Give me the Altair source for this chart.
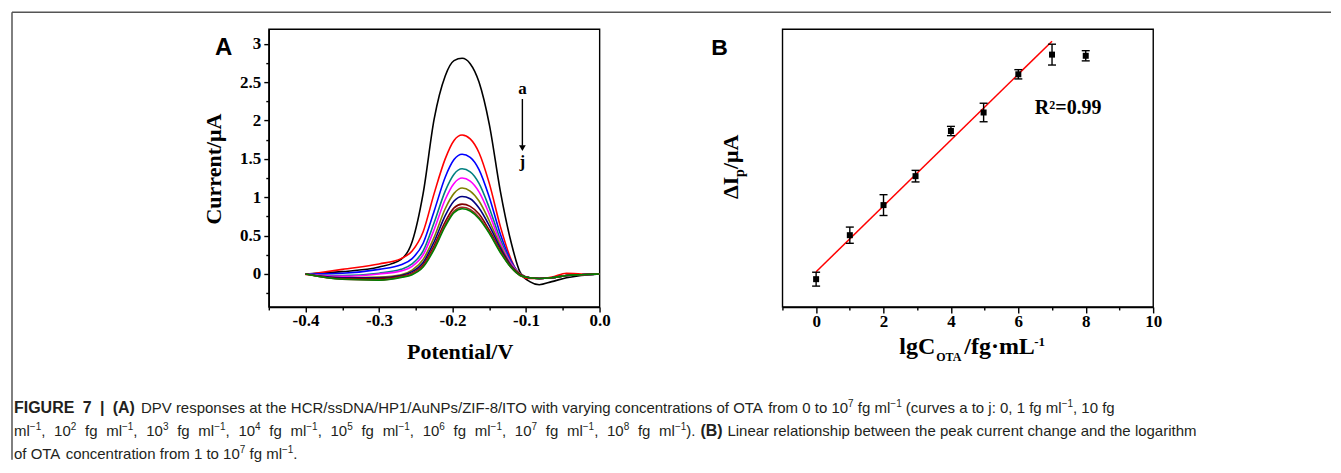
import re
import altair as alt
import pandas as pd

# ---------------- Panel A data (DPV curves a..j) ----------------
POTENTIAL = [-0.400, -0.350, -0.300, -0.270, -0.255, -0.240, -0.225, -0.210, -0.198, -0.187, -0.176,
             -0.164, -0.150, -0.135, -0.120, -0.108, -0.095, -0.082, -0.065, -0.045, -0.025, 0.000]
CURVE_IDS = ["a", "b", "c", "d", "e", "f", "g", "h", "i", "j"]
CURVE_COLORS = ["#000000", "#ff0000", "#0000ff", "#008080", "#ff00ff",
                "#808000", "#000080", "#800000", "#a52a2a", "#008000"]
CUR_A = [0.00, 0.03, 0.09, 0.19, 0.42, 1.05, 2.02, 2.58, 2.78, 2.81, 2.74, 2.50, 1.95, 1.08, 0.40, 0.02, -0.10, -0.14, -0.10, -0.05, -0.02, 0.00]
CUR_B = [-0.01, 0.06, 0.13, 0.20, 0.30, 0.55, 1.05, 1.50, 1.74, 1.81, 1.76, 1.58, 1.18, 0.62, 0.18, -0.02, -0.06, -0.06, -0.04, 0.01, 0.00, 0.00]
CUR_C = [0.00, 0.01, 0.06, 0.12, 0.20, 0.40, 0.82, 1.26, 1.49, 1.56, 1.52, 1.36, 1.00, 0.52, 0.16, 0.00, -0.05, -0.06, -0.05, -0.02, -0.01, 0.00]
CUR_D = [0.00, -0.02, 0.01, 0.06, 0.13, 0.30, 0.67, 1.08, 1.30, 1.37, 1.33, 1.18, 0.86, 0.45, 0.14, 0.00, -0.05, -0.06, -0.05, -0.02, -0.01, 0.00]
CUR_E = [0.00, -0.03, 0.00, 0.04, 0.10, 0.25, 0.58, 0.97, 1.18, 1.25, 1.21, 1.07, 0.78, 0.41, 0.13, 0.00, -0.05, -0.06, -0.05, -0.02, -0.01, 0.00]
CUR_F = [0.00, -0.05, -0.04, -0.01, 0.05, 0.19, 0.48, 0.85, 1.05, 1.12, 1.08, 0.95, 0.69, 0.37, 0.11, 0.00, -0.05, -0.06, -0.05, -0.02, -0.01, 0.00]
CUR_G = [0.00, -0.05, -0.05, -0.02, 0.03, 0.15, 0.42, 0.76, 0.95, 1.01, 0.98, 0.86, 0.63, 0.34, 0.10, -0.01, -0.05, -0.06, -0.05, -0.02, -0.01, 0.00]
CUR_H = [0.00, -0.06, -0.06, -0.03, 0.01, 0.12, 0.37, 0.68, 0.86, 0.91, 0.88, 0.78, 0.57, 0.31, 0.09, -0.01, -0.05, -0.06, -0.05, -0.02, -0.01, 0.00]
CUR_I = [0.00, -0.07, -0.08, -0.04, 0.00, 0.10, 0.34, 0.64, 0.82, 0.87, 0.84, 0.74, 0.54, 0.29, 0.08, -0.02, -0.05, -0.06, -0.05, -0.02, -0.01, 0.00]
CUR_J = [0.00, -0.07, -0.08, -0.045, -0.01, 0.09, 0.32, 0.62, 0.80, 0.85, 0.82, 0.72, 0.53, 0.28, 0.08, -0.02, -0.05, -0.06, -0.05, -0.02, -0.01, 0.00]
CURVES = [CUR_A, CUR_B, CUR_C, CUR_D, CUR_E, CUR_F, CUR_G, CUR_H, CUR_I, CUR_J]

A_X_TICKS = [-0.45, -0.4, -0.35, -0.3, -0.25, -0.2, -0.15, -0.1, -0.05, 0.0]
A_Y_TICKS = [-0.25, 0, 0.25, 0.5, 0.75, 1, 1.25, 1.5, 1.75, 2, 2.25, 2.5, 2.75, 3]

# ---------------- Panel B data ----------------
LGC = [0, 1, 2, 2.95, 4, 4.97, 6, 7, 8]
DIP = [1.22, 1.41, 1.54, 1.665, 1.86, 1.94, 2.105, 2.19, 2.185]
ERR = [0.03, 0.035, 0.045, 0.025, 0.02, 0.04, 0.02, 0.045, 0.022]
FIT_X = [0, 7]
FIT_Y = [1.252, 2.248]
B_X_TICKS = [-1, 0, 1, 2, 3, 4, 5, 6, 7, 8, 9, 10]
B_Y_TICKS = [1.1, 1.2, 1.3, 1.4, 1.5, 1.6, 1.7, 1.8, 1.9, 2.0, 2.1, 2.2, 2.3]

# ---------------- Caption text (^{..} = superscript) ----------------
CAP_L1_BOLD = "FIGURE 7 | (A)"
CAP_L1 = ("DPV responses at the HCR/ssDNA/HP1/AuNPs/ZIF-8/ITO with varying concentrations of OTA from 0 to "
          "10^{7} fg ml^{\u22121} (curves a to j: 0, 1 fg ml^{\u22121}, 10 fg")
CAP_L2 = ("ml^{\u22121}, 10^{2} fg ml^{\u22121}, 10^{3} fg ml^{\u22121}, 10^{4} fg ml^{\u22121}, "
          "10^{5} fg ml^{\u22121}, 10^{6} fg ml^{\u22121}, 10^{7} fg ml^{\u22121}, 10^{8} fg ml^{\u22121}).")
CAP_L2_BOLD = "(B)"
CAP_L2B = "Linear relationship between the peak current change and the logarithm"
CAP_L3 = "of OTA concentration from 1 to 10^{7} fg ml^{\u22121}."

SERIF = "Liberation Serif"
SANS = "Liberation Sans"
CAPFONT = "Liberation Sans"
CAP_SIZE, BOLD_SIZE, SUP_SIZE, SUP_RISE = 15, 16, 10, 5.5
W_A, W_B, H = 331, 371, 278
OX, OY = 267, 27  # page position of panel A plot origin

# Arial / Liberation Sans advance widths (1/1000 em)
AR = {" ": 278, ",": 278, ".": 278, "(": 333, ")": 333, "/": 278, "-": 333, ":": 278, "|": 260, "\u2212": 584}
AR.update({d: 556 for d in "0123456789"})
AR.update(dict(zip("ABCDEFGHIJKLMNOPQRSTUVWXYZ",
                   [667, 667, 722, 722, 667, 611, 778, 722, 278, 500, 667, 556, 833, 722, 778, 667, 778, 722,
                    667, 611, 722, 667, 944, 667, 667, 611])))
AR.update(dict(zip("abcdefghijklmnopqrstuvwxyz",
                   [556, 556, 500, 556, 556, 278, 556, 556, 222, 222, 500, 222, 833, 556, 556, 556, 556, 333,
                    500, 278, 556, 500, 722, 500, 500, 500])))
AB = dict(AR)
AB.update({"|": 280, "A": 722, "B": 722, "E": 667, "F": 611, "G": 778, "I": 278, "R": 722, "U": 722})


def text_width(s, size, bold=False):
    tbl = AB if bold else AR
    return sum(tbl.get(ch, 556) for ch in s) * size / 1000.0


def layout(markup, style, x0, baseline, x1=None):
    size = BOLD_SIZE if style == "bold" else CAP_SIZE
    pieces = []
    for p in re.split(r"(\^\{[^}]*\})", markup):
        if not p:
            continue
        if p.startswith("^{"):
            pieces.append((p[2:-1], "sup"))
        else:
            for tok in re.split(r"( )", p):
                if tok:
                    pieces.append((tok, "space" if tok == " " else style))

    def w(pc):
        t, st = pc
        if st == "space":
            return text_width(" ", size, style == "bold")
        if st == "sup":
            return text_width(t, SUP_SIZE)
        return text_width(t, size, st == "bold")

    natural = sum(w(pc) for pc in pieces)
    nsp = sum(1 for pc in pieces if pc[1] == "space")
    extra = (x1 - x0 - natural) / nsp if (x1 is not None and nsp) else 0.0
    out, x = [], x0
    for pc in pieces:
        if pc[1] == "space":
            x += w(pc) + extra
            continue
        y = baseline - SUP_RISE if pc[1] == "sup" else baseline
        out.append({"t": pc[0], "x": x - OX, "y": y - OY, "style": pc[1]})
        x += w(pc)
    return out


cap_rows = []
cap_rows += layout(CAP_L1_BOLD, "bold", 12, 411, 133)
cap_rows += layout(CAP_L1, "reg", 139, 411)
cap_rows += layout(CAP_L2, "reg", 12, 434, 694)
cap_rows += layout(CAP_L2_BOLD, "bold", 699, 434)
cap_rows += layout(CAP_L2B, "reg", 726, 434)
cap_rows += layout(CAP_L3, "reg", 12, 457)
capdf = pd.DataFrame(cap_rows)

rows = []
for cid, vals in zip(CURVE_IDS, CURVES):
    for k, (p, c) in enumerate(zip(POTENTIAL, vals)):
        rows.append({"curve": cid, "k": k, "potential": p, "current": c})
dfA = pd.DataFrame(rows)

axis_common = dict(grid=False, labelFont=SERIF, labelFontWeight="bold", labelFontSize=17,
                   labelColor="black", tickColor="black", domainColor="black", tickWidth=1.4,
                   domainWidth=1.4, labelFlush=False, labelOverlap=False, title=None)

xA = alt.X("potential:Q", scale=alt.Scale(domain=[-0.45, 0.0], nice=False, zero=False),
           axis=alt.Axis(values=A_X_TICKS,
                         labelExpr="abs(round(datum.value*100)) % 10 == 0 ? replace(format(datum.value, '.1f'), '\u2212', '-') : ''",
                         tickSize={"condition": {"test": "abs(round(datum.value*100)) % 10 == 0", "value": 5}, "value": 3},
                         labelPadding=1, **axis_common))
yA = alt.Y("current:Q", scale=alt.Scale(domain=[-0.43, 3.19], nice=False, zero=False),
           axis=alt.Axis(values=A_Y_TICKS,
                         labelExpr="abs(round(datum.value*100)) % 50 == 0 ? format(datum.value, '~g') : ''",
                         tickSize={"condition": {"test": "abs(round(datum.value*100)) % 50 == 0", "value": 5}, "value": 3},
                         labelPadding=3, **axis_common))

linesA = alt.Chart(dfA).mark_line(strokeWidth=1.6, interpolate="monotone").encode(
    x=xA, y=yA,
    color=alt.Color("curve:N", scale=alt.Scale(domain=CURVE_IDS, range=CURVE_COLORS), legend=None),
    order="k:Q",
)

arrow_df = pd.DataFrame({"potential": [-0.105], "current": [2.28], "c2": [1.67]})
arrowA = alt.Chart(arrow_df).mark_rule(color="black", strokeWidth=1.4).encode(
    x=xA, y=yA, y2="c2:Q")
head_df = pd.DataFrame({"potential": [-0.105], "current": [1.64]})
headA = alt.Chart(head_df).mark_point(shape="triangle-down", filled=True, size=45, color="black", opacity=1).encode(x=xA, y=yA)
lab_df = pd.DataFrame({"potential": [-0.105, -0.105], "current": [2.35, 1.39], "t": ["a", "j"]})
labsA = alt.Chart(lab_df).mark_text(font=SERIF, fontWeight="bold", fontSize=17, baseline="alphabetic",
                                    color="black").encode(x=xA, y=yA, text="t:N")


def pix_text(txt, x, y, **kw):
    return alt.Chart(pd.DataFrame({"t": [txt]})).mark_text(**kw).encode(
        text="t:N", x=alt.value(x), y=alt.value(y))


titleAx = pix_text("Potential/V", 191.5, 330, font=SERIF, fontWeight="bold", fontSize=22,
                   align="center", baseline="alphabetic", color="black")
titleAy = pix_text("Current/\u03bcA", -55, 140, font=SERIF, fontWeight="bold", fontSize=22,
                   align="center", baseline="middle", angle=270, color="black")
letterA = pix_text("A", -45.3, 26.3, font=SANS, fontWeight="bold", fontSize=24,
                   align="center", baseline="alphabetic", color="black")

# figure frame and caption (placed relative to panel A origin)
one = pd.DataFrame({"k": [0]})
frame_top = alt.Chart(one).mark_rule(color="#555555", strokeWidth=1.5).encode(
    x=alt.value(10 - OX), x2=alt.value(1330 - OX), y=alt.value(10 - OY))
frame_left = alt.Chart(one).mark_rule(color="#555555", strokeWidth=1.5).encode(
    x=alt.value(10 - OX), y=alt.value(10 - OY), y2=alt.value(458 - OY))


def cap_layer(style, **kw):
    sub = capdf[capdf["style"] == style]
    return alt.Chart(sub).mark_text(font=CAPFONT, align="left", baseline="alphabetic",
                                    color="#231f20", **kw).encode(
        x=alt.X("x:Q", scale=None), y=alt.Y("y:Q", scale=None), text="t:N")


capReg = cap_layer("reg", fontSize=CAP_SIZE)
capBold = cap_layer("bold", fontSize=BOLD_SIZE, fontWeight="bold")
capSup = cap_layer("sup", fontSize=SUP_SIZE)

panelA = alt.layer(linesA, arrowA, headA, labsA, titleAx, titleAy, letterA,
                   frame_top, frame_left, capReg, capBold, capSup).properties(width=W_A, height=H)

# ---------------- Panel B ----------------
dfB = pd.DataFrame({"lgc": LGC, "dip": DIP, "err": ERR})
dfB["lo"] = dfB["dip"] - dfB["err"]
dfB["hi"] = dfB["dip"] + dfB["err"]

xB = alt.X("lgc:Q", scale=alt.Scale(domain=[-1, 10], nice=False, zero=False),
           axis=alt.Axis(values=B_X_TICKS,
                         labelExpr="abs(round(datum.value)) % 2 == 0 ? format(datum.value, 'd') : ''",
                         tickSize={"condition": {"test": "abs(round(datum.value)) % 2 == 0", "value": 6}, "value": 3},
                         labelPadding=1, **axis_common))
yB = alt.Y("dip:Q", scale=alt.Scale(domain=[1.1, 2.3], nice=False, zero=False),
           axis=alt.Axis(values=B_Y_TICKS,
                         labelExpr="round(datum.value*10) % 2 == 0 ? format(datum.value, '.1f') : ''",
                         tickSize={"condition": {"test": "round(datum.value*10) % 2 == 0", "value": 6}, "value": 3},
                         labelPadding=2, **axis_common))
ysc = alt.Scale(domain=[1.1, 2.3], nice=False, zero=False)

fit_df = pd.DataFrame({"lgc": FIT_X, "dip": FIT_Y})
fitB = alt.Chart(fit_df).mark_line(color="#ff0000", strokeWidth=1.5).encode(x=xB, y=yB)
errB = alt.Chart(dfB).mark_rule(color="black", strokeWidth=1.4).encode(
    x=xB, y=alt.Y("lo:Q", scale=ysc, axis=None), y2="hi:Q")
capLo = alt.Chart(dfB).mark_tick(orient="horizontal", size=8, thickness=1.4, color="black", opacity=1).encode(
    x=xB, y=alt.Y("lo:Q", scale=ysc, axis=None))
capHi = alt.Chart(dfB).mark_tick(orient="horizontal", size=8, thickness=1.4, color="black", opacity=1).encode(
    x=xB, y=alt.Y("hi:Q", scale=ysc, axis=None))
ptsB = alt.Chart(dfB).mark_point(shape="square", filled=True, size=36, color="black", opacity=1).encode(x=xB, y=yB)
r2_df = pd.DataFrame({"lgc": [7.48], "dip": [1.932], "t": ["R\u00b2=0.99"]})
r2B = alt.Chart(r2_df).mark_text(font=SERIF, fontWeight="bold", fontSize=20, align="center",
                                 baseline="alphabetic", color="black").encode(x=xB, y=yB, text="t:N")

tkw = dict(font=SERIF, fontWeight="bold", color="black")
bx1 = pix_text("lgC", 117, 325, fontSize=24, align="left", baseline="alphabetic", **tkw)
bx2 = pix_text("OTA", 154, 332, fontSize=12, align="left", baseline="alphabetic", **tkw)
bx3 = pix_text("/fg\u00b7mL", 182, 325, fontSize=24, align="left", baseline="alphabetic", **tkw)
bx4 = pix_text("-1", 252, 317, fontSize=13, align="left", baseline="alphabetic", **tkw)
by1 = pix_text("\u0394I", -44, 170, fontSize=22, align="left", baseline="alphabetic", angle=270, **tkw)
by2 = pix_text("p", -38, 148, fontSize=14, align="left", baseline="alphabetic", angle=270, **tkw)
by3 = pix_text("/\u03bcA", -44, 140, fontSize=22, align="left", baseline="alphabetic", angle=270, **tkw)
letterB = pix_text("B", -63, 25.7, font=SANS, fontWeight="bold", fontSize=23,
                   align="center", baseline="alphabetic", color="black")

panelB = alt.layer(fitB, errB, capLo, capHi, ptsB, r2B, bx1, bx2, bx3, bx4, by1, by2, by3, letterB).properties(
    width=W_B, height=H)

chart = alt.hconcat(panelA, panelB, spacing=183, bounds="flush").properties(
    padding={"left": 2, "top": 2, "right": 0, "bottom": 0}, background="white"
).configure_view(stroke="black", strokeWidth=1.4)

chart.save("out.html", embed_options={"renderer": "svg", "actions": False})
